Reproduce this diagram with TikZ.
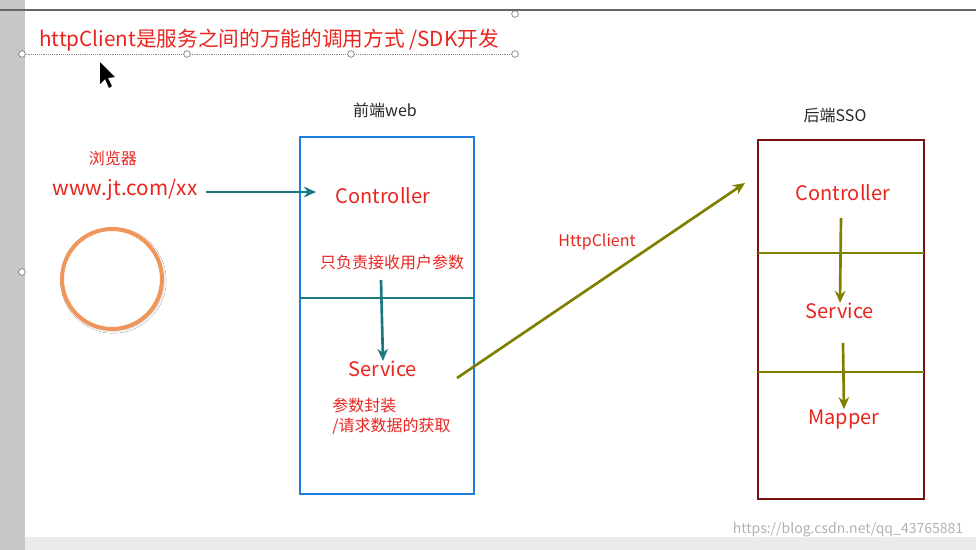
\documentclass[tikz,border=0pt]{standalone}
\usepackage{fontspec}
\setmainfont{Noto Sans CJK SC}
\usetikzlibrary{arrows.meta,shadows.blur}
\definecolor{rd}{HTML}{E8251F}
\definecolor{teal2}{HTML}{1A7A80}
\definecolor{olv}{HTML}{808000}
\definecolor{blu}{HTML}{1E7BE0}
\definecolor{drd}{HTML}{7A1010}
\definecolor{org}{HTML}{F0965A}
\tikzset{
 rt/.style={text=rd,font=\fontsize{15}{17}\selectfont,inner sep=0pt},
 st/.style={text=rd,font=\fontsize{12}{15}\selectfont,inner sep=0pt},
 hd/.style={text=black!85,font=\fontsize{12}{14}\selectfont,inner sep=0pt},
 tarr/.style={draw=teal2,line width=2pt,-{Stealth[length=9pt,width=8pt]}},
 oarr/.style={draw=olv,line width=2pt,-{Stealth[length=9pt,width=8pt]}},
 handle/.style={circle,draw=black!60,fill=white,inner sep=0pt,minimum size=5pt}
}
\begin{document}
\begin{tikzpicture}[x=0.75pt,y=-0.75pt]
\useasboundingbox (0,0) rectangle (976,550);
\fill[white] (0,0) rectangle (976,550);
\fill[black!22] (0,0) rectangle (25,550);
\fill[black!8] (25,537) rectangle (976,550);
\draw[black!60,line width=1pt] (0,10) -- (976,10);
% selection
\draw[black!45,densely dotted] (22,54) -- (515,54);
\foreach \p/\n in {{22,54}/h1,{187,54}/h2,{351,54}/h3,{515,54}/h4,{515,14}/h5,{22,272}/h6}
  \node[handle] (\n) at (\p) {};
\node[rt,font=\fontsize{15.5}{17}\selectfont] (title) at (269,40) {httpClient是服务之间的万能的调用方式 /SDK开发};
% cursor
\fill[black] (100,62) -- (100,84) -- (105,79) -- (109,88) -- (112,86) -- (108,78) -- (115,77) -- cycle;
% left
\node[st] (bro) at (113,158) {浏览器};
\node[rt,font=\fontsize{15.5}{17}\selectfont] (url) at (125,190) {www.jt.com/xx};
\node[circle,draw=org,fill=white,line width=3pt,minimum size=75pt,blur shadow={shadow blur steps=5,shadow xshift=1pt,shadow yshift=-1pt,shadow opacity=30}] (circ) at (112,279) {};
% front box
\node[hd] (fh) at (385,110) {前端web};
\draw[blu,line width=2pt] (300,137) rectangle (474,494);
\node[rt] (c1) at (383,196) {Controller};
\coordinate (ct) at (316,192);
\draw[tarr] (url.east)+(8,2) -- (ct);
\node[st] (t1) at (392,262) {只负责接收用户参数};
\draw[teal2,line width=2pt] (300,298) -- (474,298);
\node[rt] (s1) at (383,369) {Service};
\coordinate (a1) at (381,280);
\draw[tarr] (a1) -- (s1.north);
\node[st,align=left,anchor=north west] (t2) at (332,398) {参数封装\\/请求数据的获取};
% arrow to back
\coordinate (hs) at (457,378);
\coordinate (he) at (745,183);
\draw[oarr] (hs) -- (he);
\node[st] (hc) at (597,242) {HttpClient};
% back box
\node[hd] (bh) at (835,115) {后端SSO};
\draw[drd,line width=2pt] (758,140) rectangle (924,499);
\node[rt] (c2) at (843,193) {Controller};
\draw[olv,line width=2pt] (758,253) -- (924,253);
\node[rt] (s2) at (840,311) {Service};
\draw[olv,line width=2pt] (758,372) -- (924,372);
\node[rt] (m2) at (844,419) {Mapper};
\coordinate (b1) at (841,218);
\coordinate (b2) at (843,343);
\draw[oarr] (b1) -- (s2.north);
\draw[oarr] (b2) -- (m2.north);
\node[text=black!30,font=\fontsize{10.5}{12}\selectfont,inner sep=0pt] (wm) at (848,530) {https://blog.csdn.net/qq\_43765881};
\end{tikzpicture}
\end{document}
